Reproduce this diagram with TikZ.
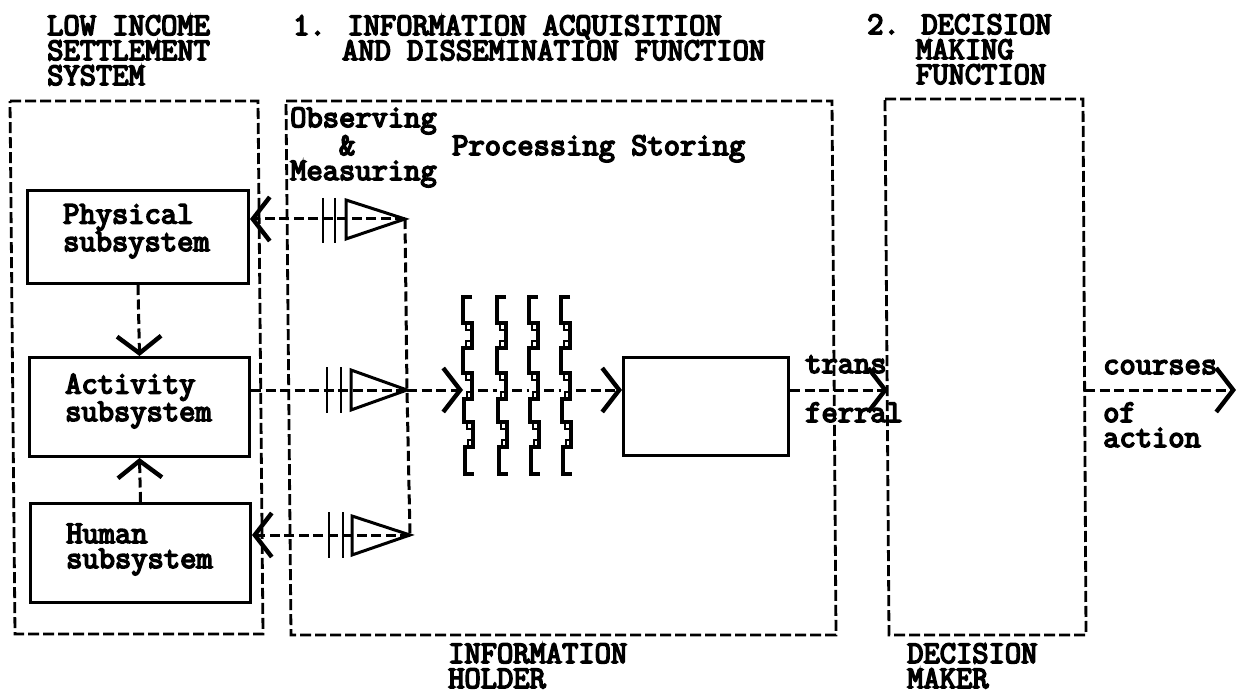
\documentclass[tikz,border=0pt]{standalone}
\usepackage{fontspec}
\newfontfamily\typewr[FakeBold=5]{Latin Modern Mono}
\usetikzlibrary{arrows.meta}
\tikzset{
  tw/.style={font=\typewr\fontsize{31.6}{25}\selectfont,anchor=base west,inner sep=0pt,align=left,text=black},
  solidbox/.style={draw=black,line width=3pt,inner sep=0pt,anchor=north west,line join=miter},
  dashline/.style={draw=black,line width=3pt,dash pattern=on 10pt off 4.5pt},
  frame/.style={draw=black,line width=2.8pt,dash pattern=on 11pt off 4pt},
  barb/.style={-{Straight Barb[length=17pt,width=44pt,line width=4.4pt]}},
  amp/.style={draw=black,line width=3pt,line join=miter,fill=none},
  bar/.style={draw=black,line width=2.2pt},
  stair/.style={draw=black,line width=3.6pt,line join=miter},
  hole/.style={draw=black,line width=1.6pt}
}
\begin{document}
\begin{tikzpicture}[x=1pt,y=-1pt]
\useasboundingbox (0,0) rectangle (1236,692);
% frames
\draw[frame] (10,101) -- (258,101) -- (263,634) -- (15,634) -- cycle;
\draw[frame] (286,101) -- (832,101) -- (836,635) -- (291,635) -- cycle;
\draw[frame] (885,99) -- (1083,99) -- (1086,635) -- (889,635) -- cycle;
% solid boxes
\node[solidbox,minimum width=221pt,minimum height=93pt] (phys) at (26,189) {};
\node[solidbox,minimum width=220pt,minimum height=99pt] (act) at (28,356) {};
\node[solidbox,minimum width=220pt,minimum height=99pt] (hum) at (29,502) {};
\node[solidbox,minimum width=165pt,minimum height=98pt] (store) at (622,356) {};
% amplifier apexes
\coordinate (a1) at (405,219);
\coordinate (a2) at (407,390);
\coordinate (a3) at (410,535);
\node[tw] (tphys) at (63,251) {Physical\\subsystem};
\node[tw] (tact) at (65,421) {Activity\\subsystem};
\node[tw] (thum) at (66,568) {Human\\subsystem};
% triangles and bars
\draw[amp] (346,200) -- (a1) -- (346,239) -- cycle;
\draw[amp] (351,370) -- (a2) -- (351,410) -- cycle;
\draw[amp] (352,516) -- (a3) -- (352,555) -- cycle;
\draw[bar] (323,198) -- (323,243) (335,198) -- (335,243);
\draw[bar] (327,367) -- (327,413) (341,367) -- (341,413);
\draw[bar] (329,512) -- (329,558) (343,512) -- (343,558);
% stair columns
\foreach \n/\x in {1/463,2/497,3/529,4/561}{
  \draw[stair] (\x+9,297) -- (\x,297) -- (\x,323) -- (\x+9,323) -- (\x+9,348) -- (\x,348) -- (\x,373) -- (\x+9,373) -- (\x+9,399) -- (\x+1,399) -- (\x+1,422) -- (\x+10,422) -- (\x+10,447) -- (\x+2,447) -- (\x+2,474) -- (\x+11,474);
  \draw[hole] (\x+3,323) rectangle (\x+9,330) (\x+3,341) rectangle (\x+9,348) (\x+3,373) rectangle (\x+9,380) (\x+4,392) rectangle (\x+9,399) (\x+4,422) rectangle (\x+10,429) (\x+5,440) rectangle (\x+10,447);
  \coordinate (cl\n) at (\x,390);
  \coordinate (cr\n) at (\x+15,390);
}
% connectors
\draw[dashline,barb] (a1) -- (phys.east |- a1);
\draw[dashline] (act.east |- a2) -- (a2);
\draw[dashline,barb] (a3) -- (hum.east |- a3);
\draw[dashline] (a1) -- (a2) -- (a3);
\draw[dashline,barb] (phys.south) -- (act.north);
\draw[dashline,barb] (hum.north) -- (act.south);
\draw[dashline,barb] (a2) -- (cl1);
\draw[dashline] (cr1) -- (cl2);
\draw[dashline] (cr2) -- (cl3);
\draw[dashline] (cr3) -- (cl4);
\draw[dashline,barb] (cr4) -- (store.west |- cr4);
\coordinate (dmin) at (888,390);
\coordinate (dmout) at (1085,390);
\coordinate (endr) at (1236,390);
\draw[dashline,barb] (store.east |- dmin) -- (dmin);
\draw[dashline,barb] (dmout) -- (endr);
% texts
\node[tw] (h1) at (47,85) {LOW INCOME\\SETTLEMENT\\SYSTEM};
\node[tw] (h2) at (293,60) {1. INFORMATION ACQUISITION\\\ \ \ AND DISSEMINATION FUNCTION};
\node[tw] (h3) at (867,84) {2. DECISION\\\ \ \ MAKING\\\ \ \ FUNCTION};
\node[tw] (o1) at (290,180) {Observing\\\ \ \ \&\\Measuring};
\node[tw] (o2) at (452,155) {Processing Storing};
\node[tw] (tr1) at (805,373) {trans};
\node[tw] (tr2) at (805,422) {ferral};
\node[tw] (c1) at (1103,374) {courses};
\node[tw] (c2) at (1103,447) {of\\action};
\node[tw] (f1) at (448,688) {INFORMATION\\HOLDER};
\node[tw] (f2) at (907,688) {DECISION\\MAKER};
\end{tikzpicture}
\end{document}
